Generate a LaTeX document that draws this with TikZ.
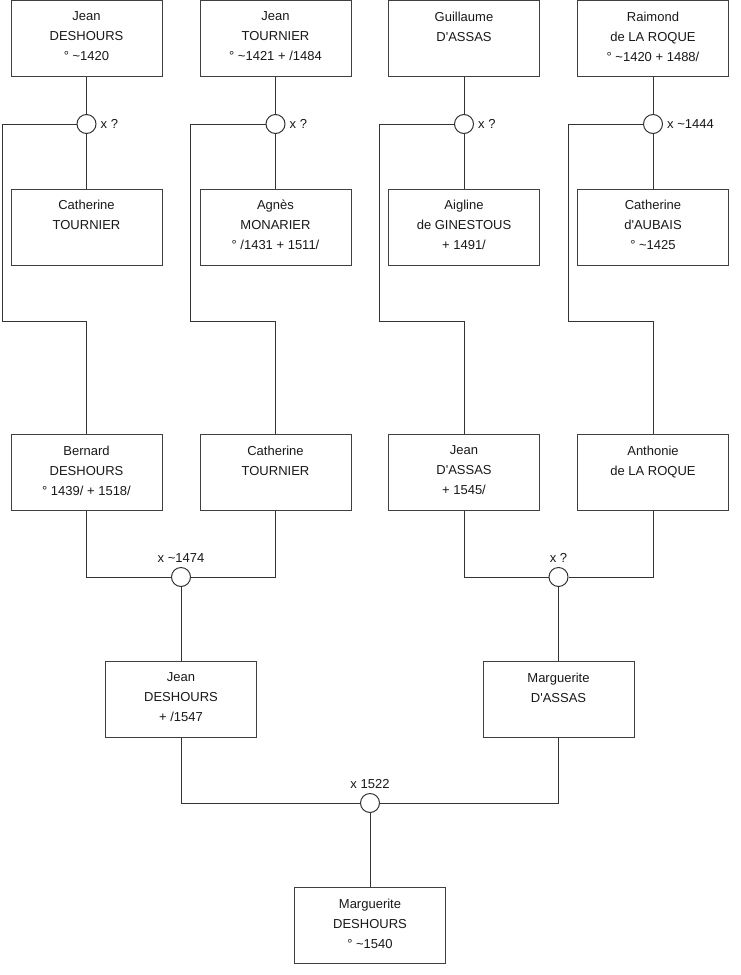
\documentclass[tikz,border=0pt]{standalone}
\usepackage{fontspec}
\setmainfont{Liberation Sans}
\newcommand{\apos}{\textquotesingle}
\begin{document}
\begin{tikzpicture}[x=1pt,y=-1pt,
  personbox/.style={draw=black!75,line width=1pt,fill=white,minimum width=151pt,minimum height=76pt,inner sep=0pt},
  persontext/.style={anchor=north,align=center,inner sep=0pt,font=\fontsize{13}{20}\selectfont,text=black!90},
  wed/.style={circle,draw=black!80,line width=1pt,fill=white,minimum size=19pt,inner sep=0pt},
  link/.style={draw=black!80,line width=1pt},
  wedlabel/.style={inner sep=0pt,font=\fontsize{13}{15}\selectfont,text=black!90}]
\useasboundingbox (0,0) rectangle (740,975);
\fill[white] (0,0) rectangle (740,975);

% row 1
\node[personbox] (b1) at (86.5,38.5) {};
\node[personbox] (b2) at (275.5,38.5) {};
\node[personbox] (b3) at (464,38.5) {};
\node[personbox] (b4) at (653,38.5) {};
% row 2
\node[personbox] (b5) at (86.5,227) {};
\node[personbox] (b6) at (275.5,227) {};
\node[personbox] (b7) at (464,227) {};
\node[personbox] (b8) at (653,227) {};
% row 3
\node[personbox] (b9) at (86.5,472.5) {};
\node[personbox] (b10) at (275.5,472.5) {};
\node[personbox] (b11) at (464,472.5) {};
\node[personbox] (b12) at (653,472.5) {};
% row 4
\node[personbox] (b13) at (181,699.5) {};
\node[personbox] (b14) at (558.5,699.5) {};
% row 5
\node[personbox] (b15) at (370,925.5) {};

% marriages
\node[wed] (m1) at (86.5,124) {};
\node[wed] (m2) at (275.5,124) {};
\node[wed] (m3) at (464,124) {};
\node[wed] (m4) at (653,124) {};
\node[wed] (m5) at (181,577) {};
\node[wed] (m6) at (558.5,577) {};
\node[wed] (m7) at (370,803) {};

% corners
\coordinate (k1) at (2,321.5);
\coordinate (k2) at (190.5,321.5);
\coordinate (k3) at (379,321.5);
\coordinate (k4) at (568,321.5);

% connectors
\draw[link] (b1.south) -- (m1.north);
\draw[link] (m1.south) -- (b5.north);
\draw[link] (b2.south) -- (m2.north);
\draw[link] (m2.south) -- (b6.north);
\draw[link] (b3.south) -- (m3.north);
\draw[link] (m3.south) -- (b7.north);
\draw[link] (b4.south) -- (m4.north);
\draw[link] (m4.south) -- (b8.north);

\draw[link] (m1.west) -| (k1) -| (b9.north);
\draw[link] (m2.west) -| (k2) -| (b10.north);
\draw[link] (m3.west) -| (k3) -| (b11.north);
\draw[link] (m4.west) -| (k4) -| (b12.north);

\draw[link] (b9.south) |- (m5.west);
\draw[link] (b10.south) |- (m5.east);
\draw[link] (m5.south) -- (b13.north);
\draw[link] (b11.south) |- (m6.west);
\draw[link] (b12.south) |- (m6.east);
\draw[link] (m6.south) -- (b14.north);
\draw[link] (b13.south) |- (m7.west);
\draw[link] (b14.south) |- (m7.east);
\draw[link] (m7.south) -- (b15.north);

% texts
\node[persontext] (t1) at ([yshift=-11.5pt]b1.north) {Jean\\DESHOURS\\° \textasciitilde1420};
\node[persontext] (t2) at ([yshift=-11.5pt]b2.north) {Jean\\TOURNIER\\° \textasciitilde1421 + /1484};
\node[persontext] (t3) at ([yshift=-11.5pt]b3.north) {Guillaume\\D\apos ASSAS};
\node[persontext] (t4) at ([yshift=-11.5pt]b4.north) {Raimond\\de LA ROQUE\\° \textasciitilde1420 + 1488/};
\node[persontext] (t5) at ([yshift=-11.5pt]b5.north) {Catherine\\TOURNIER};
\node[persontext] (t6) at ([yshift=-11.5pt]b6.north) {Agnès\\MONARIER\\° /1431 + 1511/};
\node[persontext] (t7) at ([yshift=-11.5pt]b7.north) {Aigline\\de GINESTOUS\\+ 1491/};
\node[persontext] (t8) at ([yshift=-11.5pt]b8.north) {Catherine\\d\apos AUBAIS\\° \textasciitilde1425};
\node[persontext] (t9) at ([yshift=-11.5pt]b9.north) {Bernard\\DESHOURS\\° 1439/ + 1518/};
\node[persontext] (t10) at ([yshift=-11.5pt]b10.north) {Catherine\\TOURNIER};
\node[persontext] (t11) at ([yshift=-11.5pt]b11.north) {Jean\\D\apos ASSAS\\+ 1545/};
\node[persontext] (t12) at ([yshift=-11.5pt]b12.north) {Anthonie\\de LA ROQUE};
\node[persontext] (t13) at ([yshift=-11.5pt]b13.north) {Jean\\DESHOURS\\+ /1547};
\node[persontext] (t14) at ([yshift=-11.5pt]b14.north) {Marguerite\\D\apos ASSAS};
\node[persontext] (t15) at ([yshift=-11.5pt]b15.north) {Marguerite\\DESHOURS\\° \textasciitilde1540};

% marriage labels
\node[wedlabel,anchor=west] (l1) at ([xshift=4pt]m1.east) {x ?};
\node[wedlabel,anchor=west] (l2) at ([xshift=4pt]m2.east) {x ?};
\node[wedlabel,anchor=west] (l3) at ([xshift=4pt]m3.east) {x ?};
\node[wedlabel,anchor=west] (l4) at ([xshift=4pt]m4.east) {x \textasciitilde1444};
\node[wedlabel,anchor=south] (l5) at ([yshift=4.5pt]m5.north) {x \textasciitilde1474};
\node[wedlabel,anchor=south] (l6) at ([yshift=4.5pt]m6.north) {x ?};
\node[wedlabel,anchor=south] (l7) at ([yshift=4.5pt]m7.north) {x 1522};
\end{tikzpicture}
\end{document}
